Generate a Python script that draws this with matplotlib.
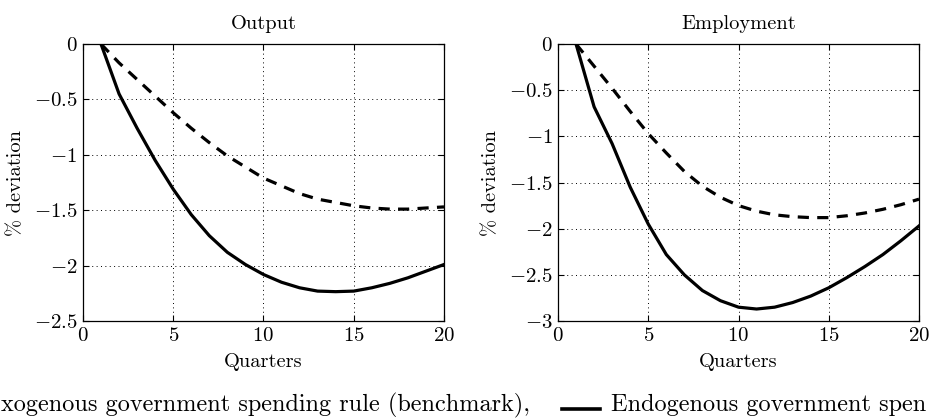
import matplotlib
matplotlib.use("Agg")
import matplotlib.pyplot as plt
from matplotlib.lines import Line2D

plt.rcParams["font.family"] = "serif"
plt.rcParams["font.serif"] = ["cmr10"]
plt.rcParams["mathtext.fontset"] = "cm"
plt.rcParams["axes.formatter.use_mathtext"] = True
plt.rcParams["axes.unicode_minus"] = True

quarters = list(range(1, 21))

output_endog = [0, -0.45, -0.76, -1.05, -1.31, -1.54, -1.73, -1.88, -1.99, -2.08,
                -2.15, -2.20, -2.23, -2.235, -2.23, -2.20, -2.16, -2.11, -2.05, -1.99]
output_exog = [0, -0.17, -0.32, -0.47, -0.62, -0.76, -0.89, -1.01, -1.11, -1.21,
               -1.28, -1.35, -1.40, -1.43, -1.46, -1.48, -1.49, -1.49, -1.48, -1.47]

emp_endog = [0, -0.68, -1.08, -1.55, -1.95, -2.28, -2.50, -2.67, -2.78, -2.85,
             -2.87, -2.85, -2.80, -2.73, -2.64, -2.53, -2.41, -2.28, -2.13, -1.97]
emp_exog = [0, -0.24, -0.48, -0.73, -0.97, -1.18, -1.38, -1.54, -1.66, -1.75,
            -1.81, -1.85, -1.87, -1.88, -1.88, -1.86, -1.83, -1.79, -1.74, -1.68]

panels = [
    ("Output", output_exog, output_endog, -2.5),
    ("Employment", emp_exog, emp_endog, -3.0),
]

# visible part of the caption line (the picture is cropped at both sides)
legend_left = "xogenous government spending rule (benchmark),"
legend_right = "Endogenous government spen"

fig = plt.figure(figsize=(9.3, 4.18), dpi=100)
lefts = [0.0892, 0.600]

for left, (title, exog, endog, ymin) in zip(lefts, panels):
    ax = fig.add_axes([left, 0.232, 0.3882, 0.6627])
    ax.plot(quarters, exog, color="black", linewidth=2.3, linestyle=(0, (3.5, 2.6)))
    ax.plot(quarters, endog, color="black", linewidth=2.3)
    ax.set_xlim(0, 20)
    ax.set_ylim(ymin, 0)
    ax.set_xticks([0, 5, 10, 15, 20])
    ticks = []
    t = ymin
    while t <= 0.001:
        ticks.append(t)
        t += 0.5
    ax.set_yticks(ticks)
    ax.yaxis.set_major_formatter(plt.FuncFormatter(
        lambda v, p: "$%s$" % ("0" if abs(v) < 1e-9 else ("%g" % v))))
    ax.tick_params(direction="in", length=4, width=0.8, top=True, right=True,
                   labelsize=15, pad=4, colors="black")
    ax.grid(True, color="black", linestyle=(0, (1, 3.5)), linewidth=0.7)
    for s in ax.spines.values():
        s.set_linewidth(0.9)
    ax.set_title(title, fontsize=14.7, pad=11)
    ax.set_xlabel("Quarters", fontsize=14.7, labelpad=6)
    ax.set_ylabel("% deviation", fontsize=14.7)
    ax.yaxis.set_label_coords(-0.16, 0.5)

fig.text(0.001, 0.0167, legend_left, ha="left", va="baseline", fontsize=17.5)
fig.add_artist(Line2D([562 / 930, 600 / 930], [1 - 409 / 418, 1 - 409 / 418],
                      color="black", linewidth=2.6, transform=fig.transFigure))
fig.text(611 / 930, 0.0167, legend_right, ha="left", va="baseline", fontsize=17.5)

fig.savefig("out.png", dpi=100)
